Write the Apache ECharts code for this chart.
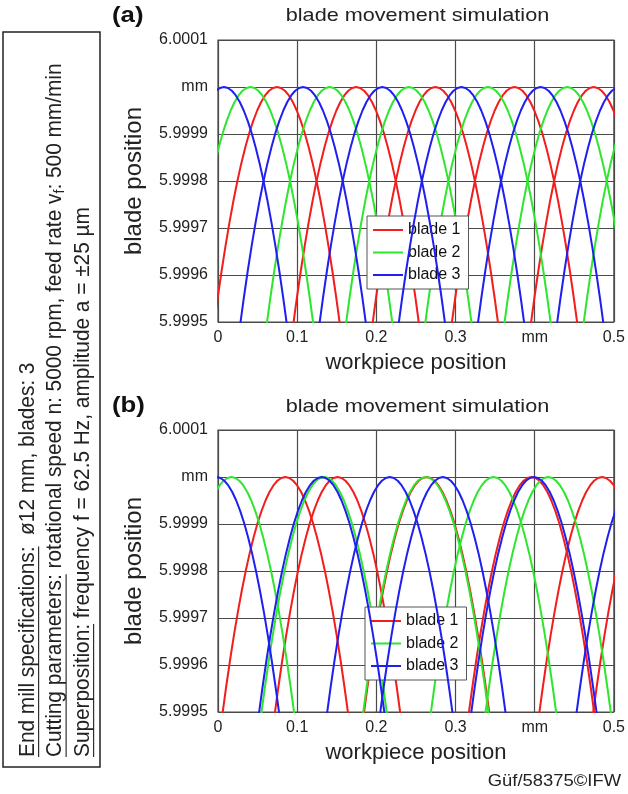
<!DOCTYPE html>
<html><head><meta charset="utf-8">
<script src="https://cdn.jsdelivr.net/npm/echarts@6/dist/echarts.min.js"></script>
<style>html,body{margin:0;padding:0;background:#fff}#chart{width:628px;height:794px}</style>
</head><body><div id="chart"></div>
<script>
// ---------------- data ----------------
const xTickLabels = ['0', '0.1', '0.2', '0.3', 'mm', '0.5'];
const yTickLabels = ['5.9995', '5.9996', '5.9997', '5.9998', '5.9999', 'mm', '6.0001'];
const bladeNames = ['blade 1', 'blade 2', 'blade 3'];

// peak height of every blade arc (mm)
const peakLevel = 6.0000;
// shape of one blade arc: horizontal offset from its peak (mm) and depth below the peak (mm)
const arcOffset = [-0.085, -0.08, -0.075, -0.07, -0.065, -0.06, -0.055, -0.05, -0.045, -0.04, -0.035, -0.03, -0.025, -0.02, -0.015, -0.01, -0.005, 0,
                   0.005, 0.01, 0.015, 0.02, 0.025, 0.03, 0.035, 0.04, 0.045, 0.05, 0.055, 0.06, 0.065, 0.07, 0.075, 0.08, 0.085];
const arcDepth = [0.000578, 0.000512, 0.000450, 0.000392, 0.000338, 0.000288, 0.000242, 0.000200, 0.000162, 0.000128, 0.000098, 0.000072, 0.000050, 0.000032, 0.000018, 0.000008, 0.000002, 0,
                  0.000002, 0.000008, 0.000018, 0.000032, 0.000050, 0.000072, 0.000098, 0.000128, 0.000162, 0.000200, 0.000242, 0.000288, 0.000338, 0.000392, 0.000450, 0.000512, 0.000578];

// (a) without superposition: workpiece position of each arc peak (mm)
const peaksA_blade1 = [0.0745, 0.1745, 0.2745, 0.3745, 0.4745];
const peaksA_blade2 = [0.041, 0.141, 0.241, 0.341, 0.441, 0.541];
const peaksA_blade3 = [0.0075, 0.1075, 0.2075, 0.3075, 0.4075, 0.5075];
// (b) with superposition
const peaksB_blade1 = [0.085, 0.151, 0.2635, 0.396, 0.485, 0.553];
const peaksB_blade2 = [0.017, 0.134, 0.2625, 0.348, 0.417];
const peaksB_blade3 = [-0.002, 0.131, 0.217, 0.284, 0.399, 0.532];

// ---------------- chart ----------------
const colors = ['#f21d1d', '#2ee62e', '#1f1ff0'];
const FAM = '"Liberation Sans", Arial, sans-serif';
const chart = echarts.init(document.getElementById('chart'), null, { renderer: 'canvas' });

function arcData(peak) {
  return arcOffset.map((o, i) => [peak + o, peakLevel - arcDepth[i]]);
}
const series = [];
function addPanel(idx, peakSets) {
  peakSets.forEach((peaks, b) => {
    peaks.forEach(p => {
      series.push({
        name: bladeNames[b], type: 'line', xAxisIndex: idx, yAxisIndex: idx,
        data: arcData(p), showSymbol: false, symbol: 'none', clip: true,
        color: colors[b], lineStyle: { width: 2, color: colors[b] },
        animation: false, silent: true, z: 2 + b
      });
    });
  });
}
addPanel(0, [peaksA_blade1, peaksA_blade2, peaksA_blade3]);
addPanel(1, [peaksB_blade1, peaksB_blade2, peaksB_blade3]);

const gridTops = [40, 430];
const grids = gridTops.map(t => ({ left: 218, top: t, width: 399, height: 282, show: true, borderColor: '#4a4a4a', borderWidth: 1.2, backgroundColor: '#fff' }));
const xAxes = gridTops.map((t, i) => ({
  type: 'value', gridIndex: i, min: 0, max: 0.5, interval: 0.1,
  name: 'workpiece position', nameLocation: 'middle', nameGap: 30,
  nameTextStyle: { fontSize: 22, color: '#222', fontFamily: FAM },
  axisLine: { show: false }, axisTick: { show: false },
  axisLabel: { margin: 8, fontSize: 16, color: '#222', fontFamily: FAM, formatter: (v, k) => xTickLabels[k] },
  splitLine: { show: true, lineStyle: { color: '#4a4a4a', width: 1.2 } }
}));
const yAxes = gridTops.map((t, i) => ({
  type: 'value', gridIndex: i, min: 5.9995, max: 6.0001, interval: 0.0001,
  name: 'blade position', nameLocation: 'middle', nameGap: 72, nameRotate: 90,
  nameTextStyle: { fontSize: 24, color: '#222', fontFamily: FAM },
  axisLine: { show: false }, axisTick: { show: false },
  axisLabel: { margin: 10, fontSize: 16, color: '#222', fontFamily: FAM, formatter: (v, k) => yTickLabels[k] },
  splitLine: { show: true, lineStyle: { color: '#4a4a4a', width: 1.2 } }
}));
const legendPos = [[367, 216], [365, 607]];
const legends = legendPos.map(p => ({
  data: bladeNames, left: p[0], top: p[1], orient: 'vertical', icon: 'rect',
  itemWidth: 30, itemHeight: 2, itemGap: 6.5, itemTextGap: 5, padding: [6, 8, 6, 6],
  borderColor: '#555', borderWidth: 1, backgroundColor: '#fff', selectedMode: false,
  textStyle: { fontSize: 16, color: '#111', fontFamily: FAM }
}));

// ---------------- side note & labels ----------------
const ctx = document.createElement('canvas').getContext('2d');
function tw(t, fs, bold) { ctx.font = (bold ? 'bold ' : '') + fs + 'px ' + FAM; return ctx.measureText(t).width; }
const sideLines = [
  [{ t: 'End mill specifications:', u: 1 }, { t: '  ø12 mm, blades: 3' }],
  [{ t: 'Cutting parameters:', u: 1 }, { t: ' rotational speed n: 5000 rpm, feed rate v' }, { t: 'f', sub: 1 }, { t: ': 500 mm/min' }],
  [{ t: 'Superposition:', u: 1 }, { t: ' frequency f = 62.5 Hz, amplitude a = \u00b125 \u00b5m' }]
];
let sfs = 16;
const len2 = sideLines[1].reduce((s, g) => s + tw(g.t, g.sub ? sfs * 0.7 : sfs), 0);
sfs = sfs * 694 / len2;
const sideX = [28, 55.5, 83];
const graphics = [];
graphics.push({ type: 'rect', shape: { x: 3, y: 32, width: 97, height: 735 }, style: { fill: 'none', stroke: '#222', lineWidth: 1.5 } });
sideLines.forEach((line, li) => {
  const children = [];
  let x = 0;
  line.forEach(g => {
    const fs = g.sub ? sfs * 0.7 : sfs;
    const w = tw(g.t, fs);
    children.push({ type: 'text', style: { text: g.t, x: x, y: g.sub ? sfs * 0.22 : 0, font: fs + 'px ' + FAM, fill: '#222', align: 'left', verticalAlign: 'middle' } });
    if (g.u) children.push({ type: 'line', shape: { x1: x, y1: sfs * 0.5, x2: x + w, y2: sfs * 0.5 }, style: { stroke: '#222', lineWidth: 1.1 } });
    x += w;
  });
  graphics.push({ type: 'group', x: sideX[li], y: 757, rotation: Math.PI / 2, scaleY: 1.02, children });
});
[['(a)', 16], ['(b)', 406]].forEach(([t, y]) => {
  graphics.push({ type: 'text', x: 112, y: y, scaleX: 1.17, style: { text: t, x: 0, y: 0, font: 'bold 22px ' + FAM, fill: '#111', align: 'left', verticalAlign: 'middle' } });
});
[16, 407].forEach(y => {
  graphics.push({ type: 'text', x: 417.5, y: y, scaleX: 1.17, style: { text: 'blade movement simulation', x: 0, y: 0, font: '18.5px ' + FAM, fill: '#222', align: 'center', verticalAlign: 'middle' } });
});
graphics.push({ type: 'text', x: 621, y: 782, scaleX: 1.15, style: { text: 'Güf/58375©IFW', x: 0, y: 0, font: '16px ' + FAM, fill: '#222', align: 'right', verticalAlign: 'middle' } });

chart.setOption({
  backgroundColor: '#fff',
  animation: false,
  grid: grids, xAxis: xAxes, yAxis: yAxes, legend: legends,
  series: series, graphic: graphics
});
</script></body></html>
